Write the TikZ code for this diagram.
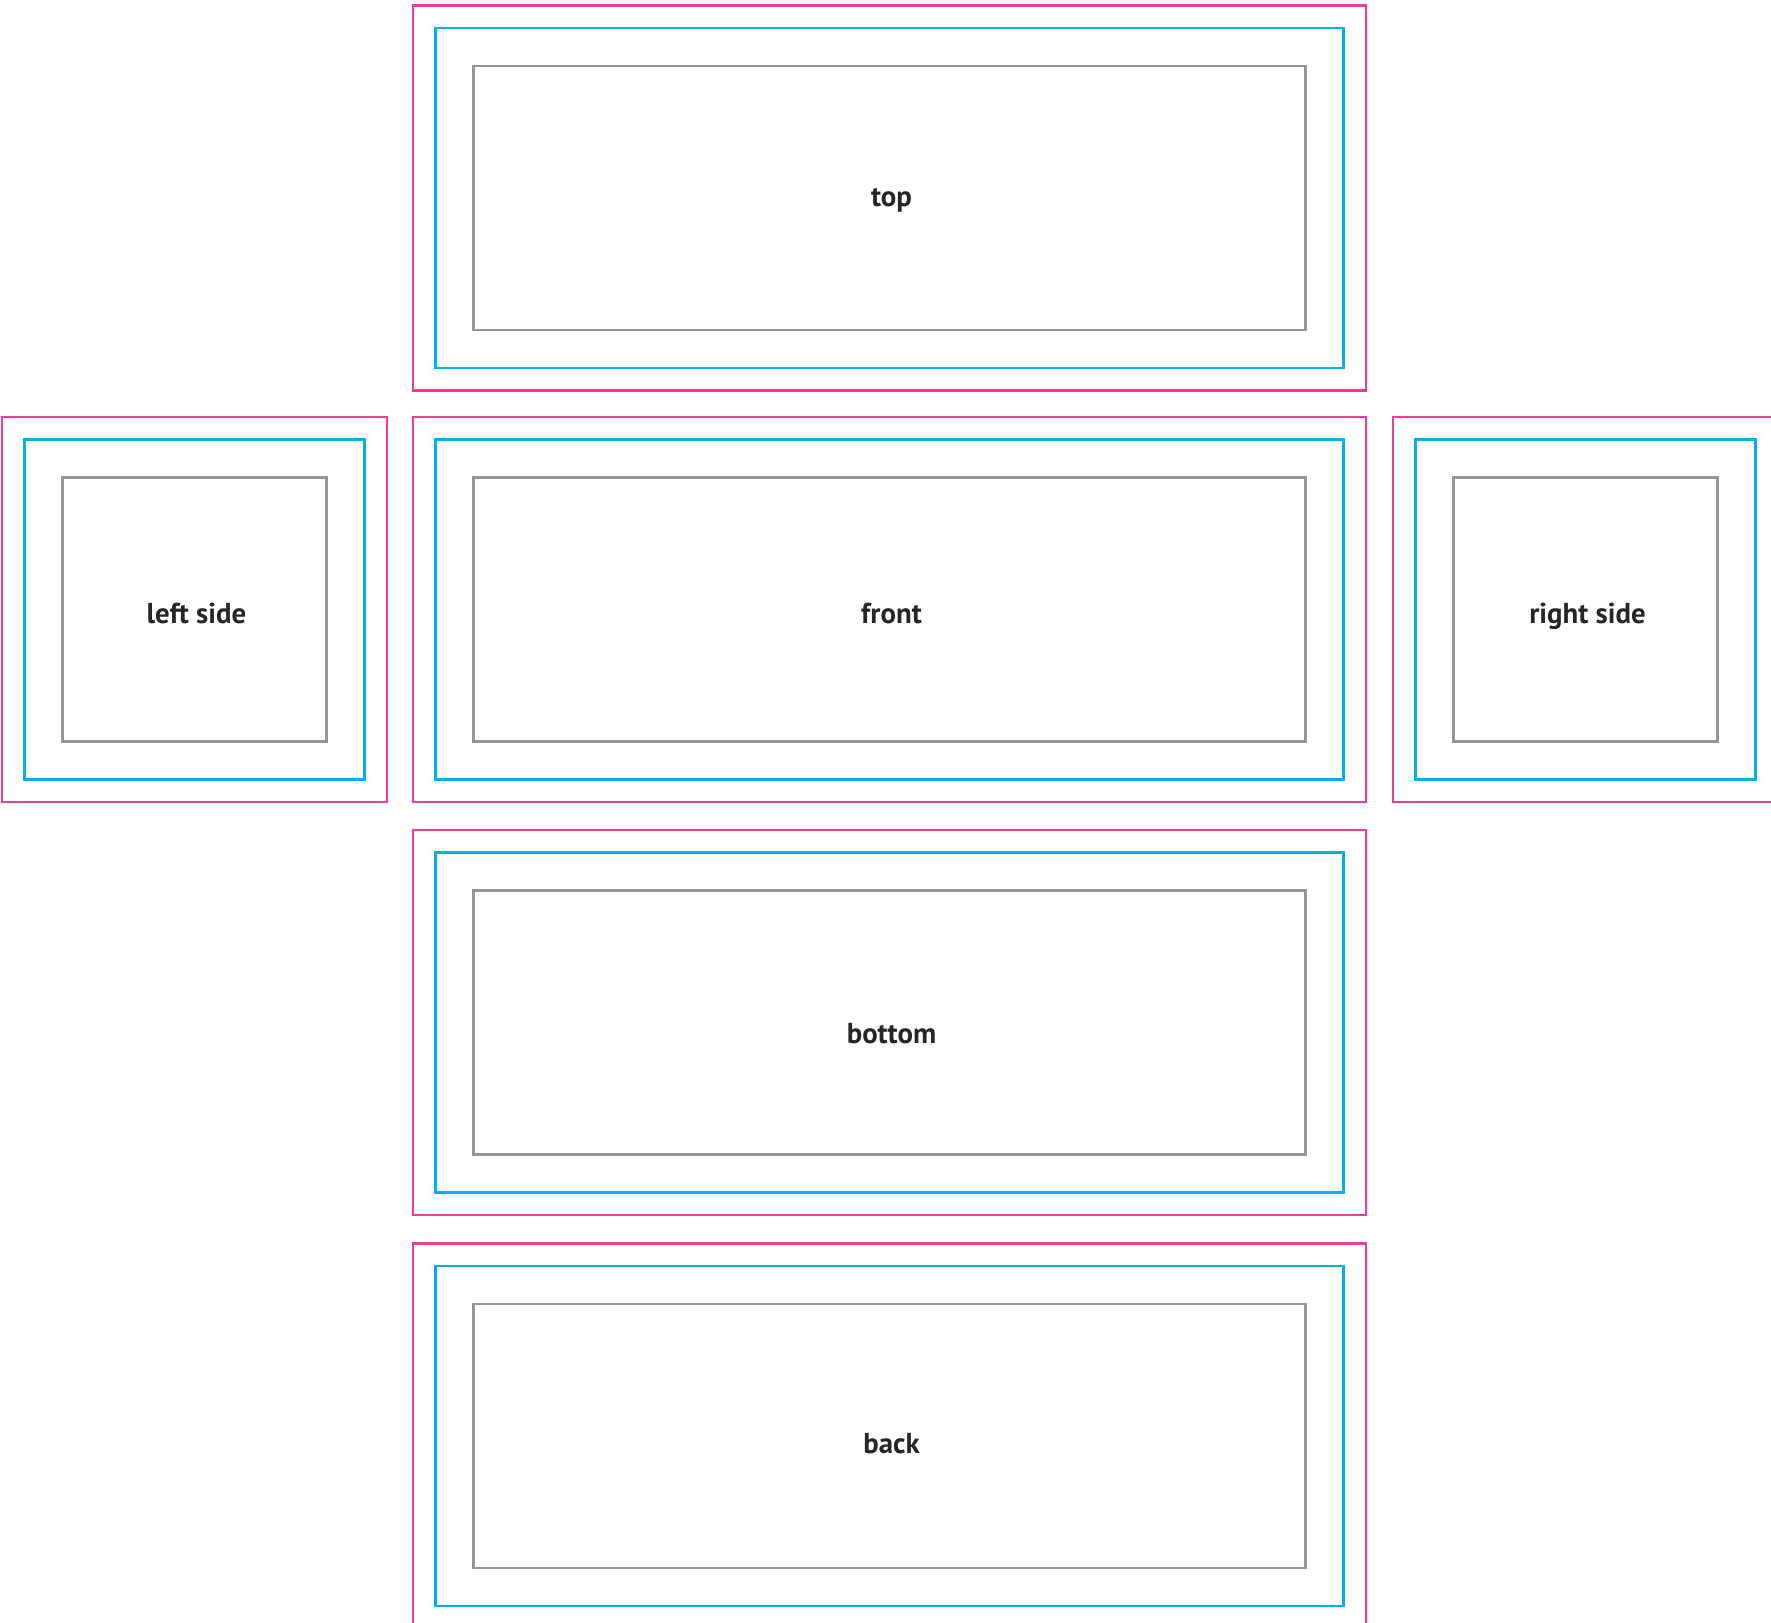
\documentclass[tikz,border=0pt]{standalone}
\usepackage{fontspec}
\setmainfont{PT Sans}
\usepackage{xcolor}
\usetikzlibrary{positioning}

\definecolor{bleedpink}{RGB}{233,62,150}
\definecolor{trimblue}{RGB}{0,176,236}
\definecolor{safegray}{RGB}{150,150,150}

\tikzset{
  bleed/.style={draw=bleedpink, line width=0.7pt, inner sep=0pt,
    minimum width=#1, minimum height=3.85cm},
  trim/.style={draw=trimblue, line width=0.7pt, inner sep=0pt,
    minimum width=#1, minimum height=3.40cm},
  safe/.style={draw=safegray, line width=0.6pt, inner sep=0pt,
    minimum width=#1, minimum height=2.64cm},
  lbl/.style={font=\bfseries\fontsize{8.2}{10}\selectfont, text=black!85,
    anchor=base, inner sep=0pt}
}

\begin{document}
\begin{tikzpicture}
        \useasboundingbox (0,0) rectangle (17.71,-16.23);
        \clip (0,0) rectangle (17.71,-16.23);

        % panels: bleed, trim and safe area, label on its baseline
        \foreach \name/\x/\y/\w/\b/\txt in {top/8.895/-1.98/9.53/-2.07/top,
            front/8.895/-6.095/9.53/-6.24/front,
            bottom/8.895/-10.225/9.53/-10.44/bottom,
            back/8.895/-14.36/9.53/-14.54/back,
            left/1.945/-6.095/3.85/-6.24/left side,
            right/15.855/-6.095/3.85/-6.24/right side} {
          \node[bleed=\w cm] (\name-bleed) at (\x,\y) {};
          \node[trim=\w cm-0.45cm] (\name-trim) at (\name-bleed) {};
          \node[safe=\w cm-1.21cm] (\name-safe) at (\name-trim) {};
          \node[lbl] (\name-lbl) at (\x+0.02,\b) {\txt};
        }
      \end{tikzpicture}
\end{document}
